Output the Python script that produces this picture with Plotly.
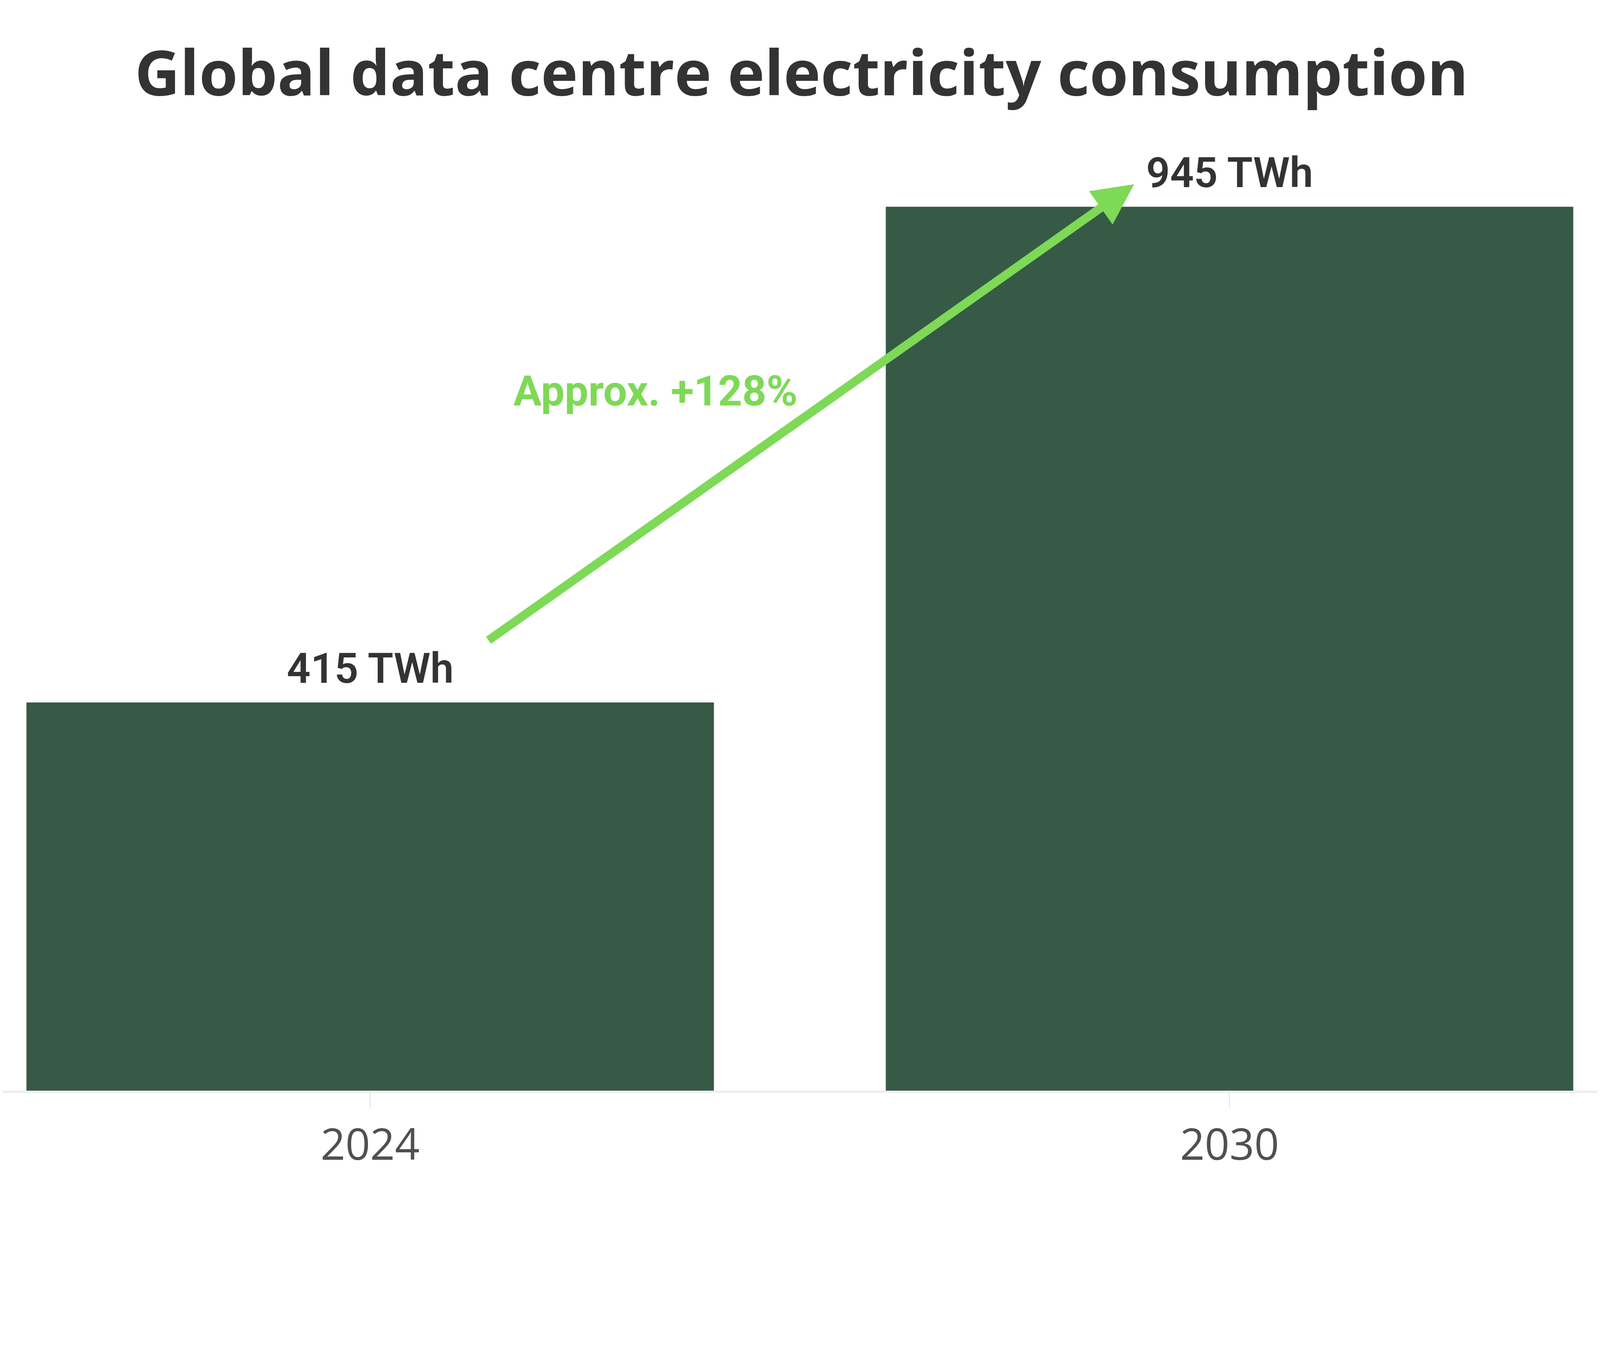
import plotly.graph_objects as go

# data
years = ["2024", "2030"]
twh = [415, 945]
value_labels = ["415 TWh", "945 TWh"]
growth_label = "Approx. +128%"

BAR = "#375a46"
GREEN = "#7ed957"
DARK = "#333333"

fig = go.Figure()

fig.add_trace(go.Bar(
    x=years,
    y=twh,
    marker=dict(color=BAR, line=dict(width=0)),
    width=0.8,
    hoverinfo="skip",
))

# value labels above each bar (category axis -> use the category index)
for i, (v, lab) in enumerate(zip(twh, value_labels)):
    fig.add_annotation(
        x=i, y=v, text=lab, showarrow=False,
        xanchor="center", yanchor="bottom", yshift=22,
        font=dict(family="Roboto", size=107, color=DARK, weight=600),
    )

# growth arrow between the bars
fig.add_annotation(
    x=0.889, y=969, ax=0.137, ay=481,
    xref="x", yref="y", axref="x", ayref="y",
    text="", showarrow=True,
    arrowhead=2, arrowsize=0.95, arrowwidth=22, arrowcolor=GREEN,
    standoff=0, startstandoff=0,
)
fig.add_annotation(
    x=0.332, y=748, text=growth_label, showarrow=False,
    xanchor="center", yanchor="middle",
    font=dict(family="Roboto", size=108, color=GREEN, weight=700),
)

fig.update_layout(
    width=4088, height=3064,
    margin=dict(l=0, r=0, t=150, b=280),
    paper_bgcolor="white", plot_bgcolor="white",
    showlegend=False,
    title=dict(
        text="Global data centre electricity consumption",
        x=0.5, xanchor="center", y=0.9411, yanchor="middle",
        yref="container",
        font=dict(family="Open Sans", size=160, color=DARK, weight=700),
    ),
    xaxis=dict(
        type="category",
        range=[-0.4271, 1.4311],
        showgrid=False,
        showline=True, linecolor="#eeeeee", linewidth=6,
        ticks="outside", ticklen=38, tickwidth=3, tickcolor="#e8e8e8",
        tickfont=dict(family="Open Sans", size=111, color="#505050"),
    ),
    yaxis=dict(
        range=[0, 1100],
        visible=False,
        showgrid=False,
        zeroline=False,
    ),
)

fig.write_html("out.html")
